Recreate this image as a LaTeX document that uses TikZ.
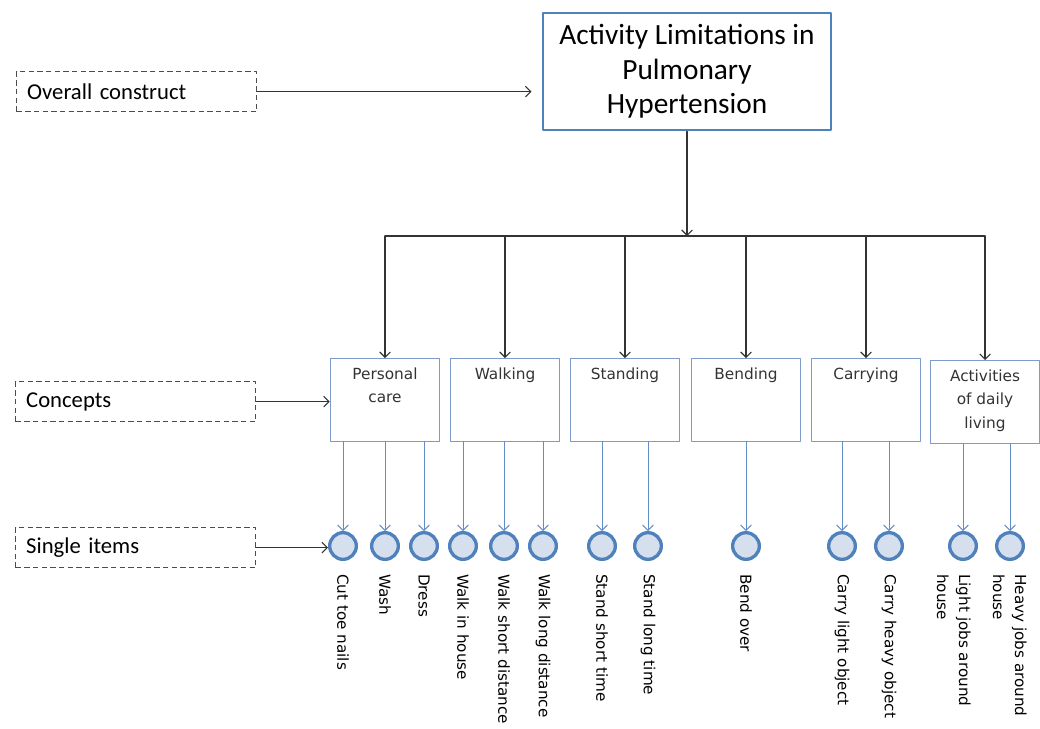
\documentclass[tikz,border=0pt]{standalone}
\usepackage{fontspec}
\setmainfont{Carlito}
\newfontfamily\dejavu{DejaVu Sans}
\usetikzlibrary{arrows.meta}
\definecolor{xanh}{HTML}{4F81BD}
\definecolor{xanhnhat}{HTML}{7E9CCB}
\definecolor{nen}{HTML}{D6DFEE}
\newcommand{\khung}[1]{\parbox[c][62pt][t]{82pt}{\centering\vspace*{7pt}#1}}
\tikzset{
  nhan/.style={draw=black!70, dash pattern=on 4pt off 2.5pt, line cap=butt, line width=0.8pt,
    anchor=north west, minimum width=180pt, minimum height=30pt, text width=164pt,
    inner xsep=8pt, align=left, font=\fontsize{17}{20}\selectfont},
  hop/.style={draw=xanh, line width=2.2pt, minimum width=216pt, minimum height=87.75pt,
    align=center, font=\fontsize{22}{26}\selectfont},
  khainiem/.style={draw=xanhnhat, line width=0.9pt, anchor=north, inner sep=0pt,
    text=black!80, font=\dejavu\fontsize{11.5}{17.5}\selectfont},
  muc/.style={circle, draw=xanh, line width=2.5pt, fill=nen, minimum size=20pt, inner sep=0pt},
  chu/.style={rotate=-90, anchor=west, inner sep=0pt, font=\dejavu\fontsize{11.4}{16.5}\selectfont},
  mtxanh/.style={->, draw=xanh!90, line width=0.75pt},
  mtden/.style={->, draw=black!80, line width=0.8pt}
}
\begin{document}
\begin{tikzpicture}[x=0.75pt, y=-0.75pt, line join=round, line cap=round, >={Straight Barb[length=4pt,width=8pt]}]
\useasboundingbox (0,0) rectangle (1040,729);
% cot trai
\node[nhan] (tong) at (16,71) {Overall construct};
\node[nhan] (kn) at (15,381) {Concepts};
\node[nhan] (dm) at (15,527) {Single items};
% hop tren
\node[hop] (TB) at (687,71.5) {Activity Limitations in\\Pulmonary\\Hypertension};
\coordinate (G) at (TB.south |- 0,236);
\draw[mtden] (tong.east) -- ([xshift=-7.5pt]TB.west |- tong.east);
\draw[mtden] (TB.south) -- (G);
% cac khai niem
\foreach \x/\y/\ten/\chu in {385/358/K1/{Personal\\care}, 505/358/K2/Walking, 625/358/K3/Standing,
    746/358/K4/Bending, 866/358/K5/Carrying, 985/360/K6/{Activities\\of daily\\living}}{
  \node[khainiem] (\ten) at (\x,\y) {\khung{\chu}};
  \draw[mtden] (\ten.north |- G) -- (\ten.north);
}
\draw[line width=0.8pt, black!80] (K1.north |- G) -- (K6.north |- G);
\draw[mtden] (kn.east) -- (kn.east -| K1.west);
% cac muc
\foreach \x/\k/\ten in {343/K1/Cut toe nails, 385/K1/Wash, 424/K1/Dress, 463/K2/Walk in house,
    504/K2/Walk short distance, 543/K2/Walk long distance, 602/K3/Stand short time,
    648/K3/Stand long time, 746/K4/Bend over, 842/K5/Carry light object,
    889/K5/Carry heavy object, 963/K6/, 1010/K6/}{
  \node[muc] (M\x) at (\x,546) {};
  \draw[mtxanh] (M\x.north |- \k.south) -- (M\x.north);
  \node[chu] (L\x) at (\x,574) {\ten};
}
\node[chu, anchor=north west, align=left] (L963b) at (971,574) {Light jobs around\\house};
\node[chu, anchor=north west, align=left] (L1010b) at (1027,574) {Heavy jobs around\\house};
\draw[mtden] (dm.east) -- (dm.east -| M343.west);
\end{tikzpicture}
\end{document}
